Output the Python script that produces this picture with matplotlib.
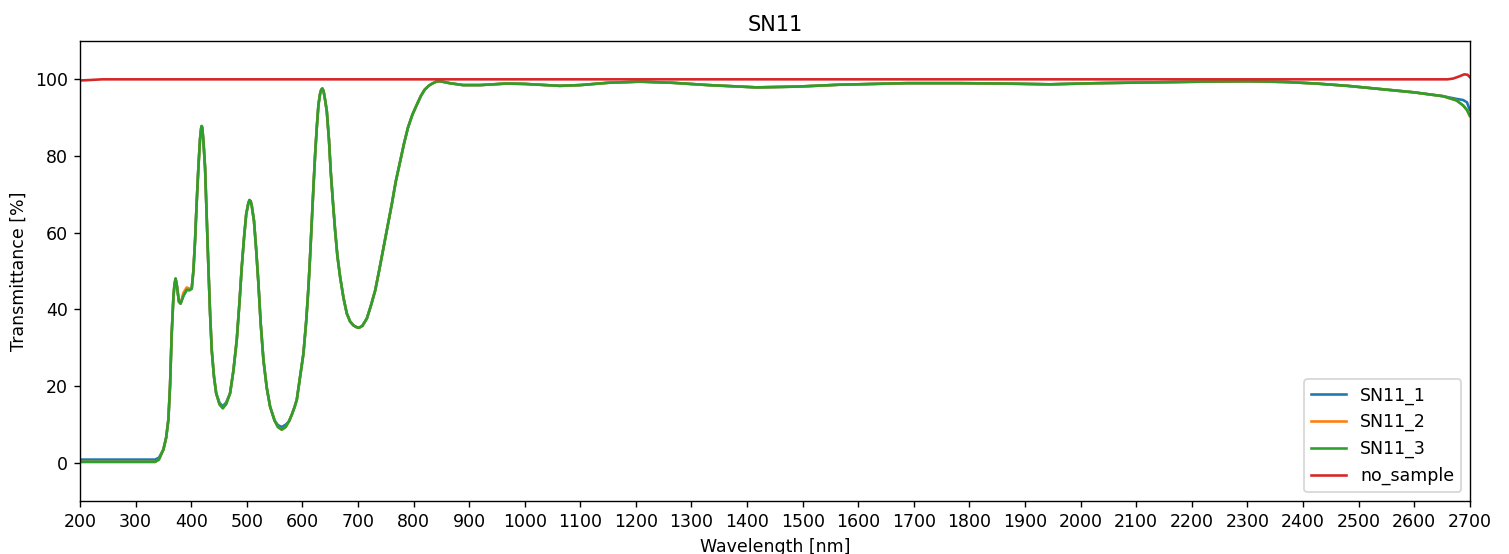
import numpy as np
import matplotlib
matplotlib.use("Agg")
import matplotlib.pyplot as plt

# wavelength grid [nm] and transmittance [%]
wavelength = [200, 300, 335, 342, 350, 355, 359, 362, 365, 368, 370, 372, 374, 378, 381, 386, 392, 397, 401,
              404, 407, 410, 413, 416, 418, 419, 420, 422, 425, 428, 431, 434, 437, 441, 445, 451, 457, 463, 470,
              476, 482, 487, 491, 495, 499, 503, 505, 507, 509, 513, 517, 521, 525, 530, 536, 542, 550, 556,
              563, 570, 576, 581, 586, 590, 596, 602, 607, 611, 614, 617, 620, 623, 626, 629, 632, 634, 636,
              638, 640, 644, 648, 651, 655, 659, 663, 668, 674, 680, 686, 692, 698, 702, 708, 716, 723, 731,
              738, 745, 753, 761, 768, 776, 783, 790, 798, 806, 813, 820, 828, 835, 841, 847, 855, 865, 889, 920,
              967, 1000, 1063, 1100, 1150, 1207, 1266, 1330, 1417, 1490, 1567, 1687, 1783, 1860, 1945,
              2030, 2124, 2220, 2304, 2370, 2424, 2480, 2544, 2600, 2652, 2676, 2688, 2695, 2700]

sn11_3 = [0.2, 0.2, 0.2, 0.8, 3.4, 6.5, 11.2, 20, 33.7, 43, 46.5, 48, 46.5, 42, 41.5, 43.5, 45.1, 45, 45.4,
          50, 57.9, 68, 77, 84.5, 87.3, 87.8, 87.3, 84, 77, 64, 51, 39, 29.4, 22.5, 18.1, 15.2, 14.2, 15.3, 18.1,
          24, 32, 42, 51, 58.5, 64.8, 67.8, 68.5, 68.2, 67, 63.1, 55.5, 46.7, 36.5, 26.8, 19.5, 14.6, 11, 9.3,
          8.6, 9.3, 10.8, 12.5, 14.5, 16.4, 22.4, 28.5, 37, 45.8, 54, 63.1, 72, 80.4, 87.5, 93.4, 96.3, 97.3, 97.6,
          97.0, 95.5, 91.7, 84, 76.1, 68, 60.5, 54, 48.4, 43, 38.9, 36.8, 35.8, 35.3, 35.2, 35.7, 37.6, 40.8, 44.9,
          50, 55.3, 61.5, 67.5, 73.3, 78.7, 83.3, 87.4, 90.8, 93.4, 95.6, 97.3, 98.4, 99.0, 99.4, 99.5, 99.3, 99.0, 98.5, 98.5,
          98.9, 98.8, 98.3, 98.5, 99.1, 99.4, 99.1, 98.5, 97.9, 98.1, 98.6, 99.0, 99.0, 98.9, 98.7,
          99.0, 99.2, 99.4, 99.5, 99.3, 98.9, 98.3, 97.4, 96.6, 95.6, 94.5, 93.2, 92.0, 90.5]

# the other two samples only differ from SN11_3 at a few points
sn11_1_diff = {200: 0.8, 300: 0.8, 335: 0.8, 342: 1.3, 451: 15.6, 457: 14.7, 463: 15.7,
               556: 9.8, 563: 9.3, 570: 9.9, 2676: 94.9, 2688: 94.6, 2695: 94.0, 2700: 92.0}
sn11_2_diff = {386: 44.3, 392: 45.7, 397: 45.4}

ns_wavelength = [200, 215, 240, 1000, 2000, 2660, 2670, 2680, 2690, 2696, 2700]
no_sample = [99.7, 99.8, 100.0, 100.0, 100.0, 100.0, 100.2, 100.7, 101.3, 101.2, 100.6]

sn11_1 = [sn11_1_diff.get(w, v) for w, v in zip(wavelength, sn11_3)]
sn11_2 = [sn11_2_diff.get(w, v) for w, v in zip(wavelength, sn11_3)]

fig = plt.figure(figsize=(1509 / 125, 554 / 125), dpi=125)
ax = fig.add_axes([0.053, 0.0957, 0.921, 0.8303])

ax.plot(wavelength, sn11_1, label="SN11_1")
ax.plot(wavelength, sn11_2, label="SN11_2")
ax.plot(wavelength, sn11_3, label="SN11_3")
ax.plot(ns_wavelength, no_sample, label="no_sample")

ax.set_xlim(200, 2700)
ax.set_ylim(-10, 110)
ax.set_xticks(np.arange(200, 2701, 100))
ax.set_yticks([0, 20, 40, 60, 80, 100])
ax.set_xlabel("Wavelength [nm]")
ax.set_ylabel("Transmittance [%]")
ax.set_title("SN11")
ax.legend(loc="lower right")

fig.savefig("out.png", dpi=125)
